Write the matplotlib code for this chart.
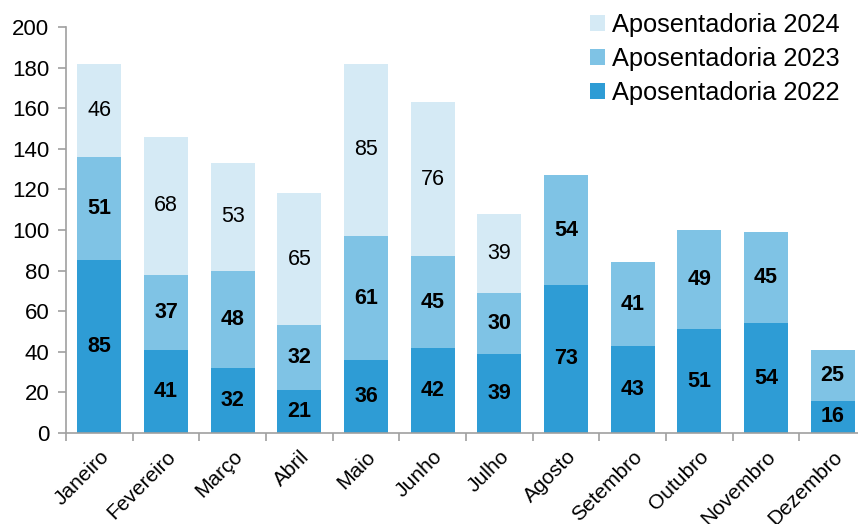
import numpy as np
import matplotlib
matplotlib.use("Agg")
import matplotlib.pyplot as plt

plt.rcParams['font.family'] = ['Liberation Sans', 'DejaVu Sans']

months = ["Janeiro", "Fevereiro", "Março", "Abril", "Maio", "Junho",
          "Julho", "Agosto", "Setembro", "Outubro", "Novembro", "Dezembro"]
apos_2022 = [85, 41, 32, 21, 36, 42, 39, 73, 43, 51, 54, 16]
apos_2023 = [51, 37, 48, 32, 61, 45, 30, 54, 41, 49, 45, 25]
apos_2024 = [46, 68, 53, 65, 85, 76, 39, 0, 0, 0, 0, 0]

c22 = "#2e9cd5"
c23 = "#7fc3e5"
c24 = "#d5eaf5"

fig = plt.figure(figsize=(8.58, 5.24), dpi=100)
ax = fig.add_axes([66 / 858, 91 / 524, 800 / 858, 406 / 524])

x = np.arange(len(months))
w = 0.66
b22 = ax.bar(x, apos_2022, w, color=c22, label="Aposentadoria 2022")
b23 = ax.bar(x, apos_2023, w, bottom=apos_2022, color=c23, label="Aposentadoria 2023")
bot24 = np.array(apos_2022) + np.array(apos_2023)
b24 = ax.bar(x, apos_2024, w, bottom=bot24, color=c24, label="Aposentadoria 2024")

for i in range(len(months)):
    ax.text(x[i], apos_2022[i] / 2, str(apos_2022[i]), ha="center", va="center",
            fontsize=15.5, fontweight="bold")
    ax.text(x[i], apos_2022[i] + apos_2023[i] / 2, str(apos_2023[i]), ha="center",
            va="center", fontsize=15.5, fontweight="bold")
    if apos_2024[i] > 0:
        ax.text(x[i], bot24[i] + apos_2024[i] / 2, str(apos_2024[i]), ha="center",
                va="center", fontsize=15.5)

ax.set_xlim(-0.5, len(months) - 0.5)
ax.set_ylim(0, 200)
ax.set_yticks(range(0, 201, 20))
ax.tick_params(axis="y", labelsize=16, color="#a0a0a0", length=6, width=1.2, pad=6)

ax.set_xticks(x)
ax.set_xticklabels(months, rotation=45, ha="right", rotation_mode="anchor", fontsize=15)
ax.set_xticks(np.arange(-0.5, len(months), 1), minor=True)
ax.tick_params(axis="x", which="major", length=0, pad=10)
ax.tick_params(axis="x", which="minor", length=6, width=1.2, color="#a0a0a0")

for s in ["top", "right"]:
    ax.spines[s].set_visible(False)
for s in ["left", "bottom"]:
    ax.spines[s].set_color("#a0a0a0")
    ax.spines[s].set_linewidth(1.2)

handles = [b24, b23, b22]
fig.legend(handles, [h.get_label() for h in handles], loc="upper right",
           bbox_to_anchor=(852 / 858, 1.0), frameon=False,
           fontsize=18.3, handlelength=0.6, handleheight=0.6, handletextpad=0.25,
           labelspacing=0.4, borderaxespad=0.1)

fig.savefig("out.png", dpi=100)
